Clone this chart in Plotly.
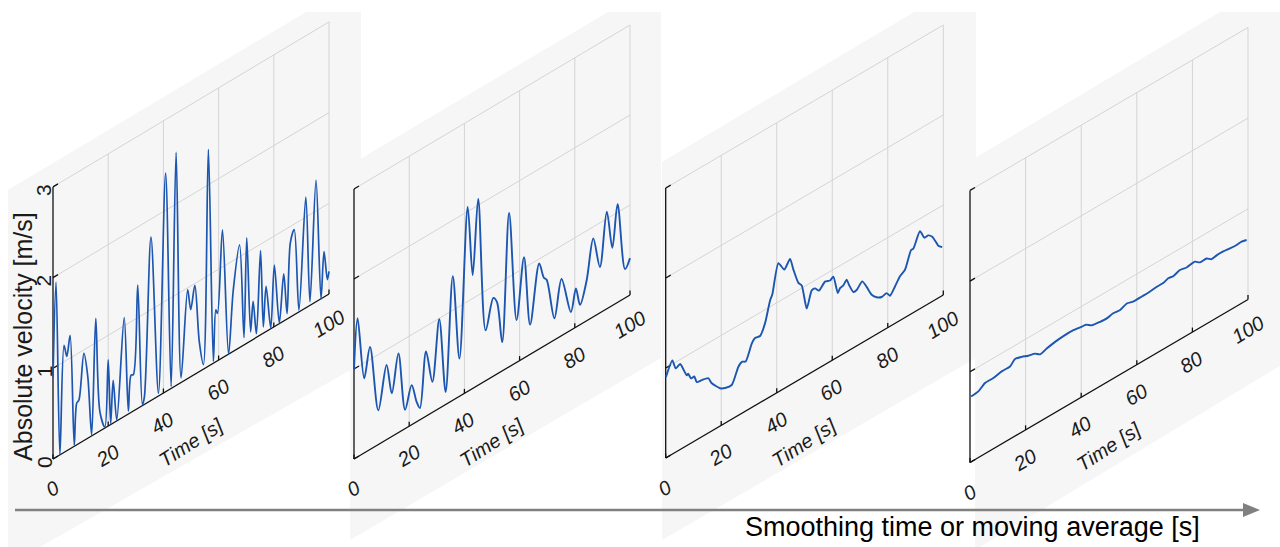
import plotly.graph_objects as go

# ---------------- data ----------------
# Panel 1: raw signal
time_1 = [0.0, 1.1, 2.5, 4.0, 5.0, 6.2, 7.7, 8.6, 9.4, 11.2, 12.6, 14.0, 15.5, 17.0, 18.8, 20.0,
          20.9, 21.8, 23.1, 25.8, 27.3, 28.3, 29.1, 30.7, 32.4, 33.1, 35.5, 38.2, 40.8, 42.8,
          44.6, 46.4, 48.8, 49.9, 51.4, 53.0, 54.5, 56.3, 58.1, 59.0, 59.6, 61.4, 63.6, 65.3,
          67.6, 69.2, 70.2, 71.6, 72.5, 73.7, 75.2, 76.2, 77.2, 78.9, 80.2, 82.0, 83.6, 84.8,
          86.0, 87.4, 89.1, 91.6, 93.1, 95.3, 97.1, 98.2, 99.4, 100.0]
vel_1 = [0.90, 1.93, 0.00, 1.18, 1.04, 1.25, 0.01, 0.46, 0.48, 0.96, 0.68, 0.01, 1.27, 0.21, 0.01, 0.73,
         0.01, 0.47, 0.01, 1.09, 0.03, 0.41, 0.40, 1.36, 0.01, 0.08, 1.80, 0.03, 2.41, 0.02,
         2.57, 0.05, 0.98, 0.74, 0.98, 0.33, 0.05, 2.39, 0.02, 0.57, 0.52, 1.41, 0.00, 0.67,
         1.13, 0.08, 1.16, 0.10, 0.42, 0.04, 0.93, 0.07, 0.50, 0.01, 0.68, 0.01, 0.52, 0.06,
         0.82, 0.94, 0.02, 1.22, 0.04, 1.34, 0.00, 0.50, 0.17, 0.25]

# Panel 2: light smoothing
time_2 = [0.0, 1.3, 3.7, 5.8, 8.8, 11.8, 13.7, 16.1, 18.5, 20.9, 22.7, 23.9, 26.1, 28.4, 30.9,
          33.2, 35.8, 38.2, 41.2, 43.0, 45.0, 47.7, 50.5, 51.8, 53.7, 56.2, 58.9, 61.6, 63.8,
          67.1, 68.8, 69.8, 72.6, 75.2, 78.6, 80.4, 81.9, 84.3, 86.7, 89.1, 91.6, 93.6, 95.5,
          98.2, 100.0]
vel_2 = [1.00, 1.54, 0.83, 1.14, 0.38, 0.83, 0.48, 0.88, 0.21, 0.44, 0.22, 0.13, 0.72, 0.34, 0.99,
         0.14, 1.38, 0.42, 2.05, 1.26, 2.07, 0.56, 0.87, 0.80, 0.32, 1.71, 0.47, 1.12, 0.33,
         0.95, 0.76, 0.72, 0.24, 0.63, 0.20, 0.43, 0.22, 0.45, 0.87, 0.51, 1.08, 0.64, 1.09,
         0.32, 0.41]

# Panel 3: stronger smoothing
time_3 = [0.1, 2.4, 3.6, 5.2, 7.6, 8.1, 9.1, 10.3, 11.2, 13.0, 15.3, 16.6, 19.6, 21.4, 23.8,
          26.2, 27.6, 28.8, 31.0, 32.2, 34.0, 35.8, 37.6, 38.4, 40.6, 42.7, 44.8, 46.0, 47.8,
          49.0, 50.8, 52.6, 53.8, 55.2, 57.4, 59.2, 60.4, 62.0, 62.8, 64.0, 65.2, 66.0, 67.6,
          68.8, 70.8, 72.4, 74.2, 76.0, 77.8, 79.6, 80.8, 82.6, 84.4, 86.2, 88.4, 89.2, 91.6,
          93.2, 94.6, 96.0, 97.6, 98.2, 99.6]
vel_3 = [0.90, 1.04, 0.93, 0.95, 0.78, 0.79, 0.72, 0.72, 0.64, 0.63, 0.61, 0.53, 0.42, 0.39, 0.38,
         0.54, 0.57, 0.55, 0.71, 0.75, 0.74, 0.85, 1.07, 1.12, 1.43, 1.32, 1.40, 1.26, 1.08,
         1.03, 0.74, 0.91, 0.91, 0.86, 0.92, 0.90, 0.92, 0.71, 0.75, 0.76, 0.80, 0.73, 0.62,
         0.62, 0.68, 0.59, 0.47, 0.41, 0.38, 0.39, 0.34, 0.41, 0.49, 0.53, 0.71, 0.71, 0.86,
         0.76, 0.76, 0.72, 0.62, 0.58, 0.54]

# Panel 4: moving average
time_4 = [0.4, 3.0, 5.4, 8.4, 11.4, 14.4, 16.2, 18.6, 21.0, 23.4, 25.2, 27.6, 30.6, 33.6, 37.2,
          40.2, 41.7, 43.8, 46.8, 49.2, 51.5, 54.0, 56.4, 58.7, 61.8, 64.1, 67.2, 69.5, 71.3,
          73.1, 75.5, 77.9, 80.9, 82.7, 85.1, 86.9, 88.7, 91.1, 93.5, 95.9, 97.7, 99.5]
vel_4 = [0.72, 0.73, 0.78, 0.78, 0.80, 0.80, 0.85, 0.83, 0.80, 0.78, 0.74, 0.76, 0.78, 0.79, 0.79,
         0.775, 0.77, 0.725, 0.71, 0.705, 0.72, 0.71, 0.74, 0.72, 0.72, 0.72, 0.73, 0.73, 0.75,
         0.74, 0.765, 0.75, 0.76, 0.72, 0.72, 0.68, 0.69, 0.69, 0.68, 0.675, 0.68, 0.665]

TIME_TICKS = [0, 20, 40, 60, 80, 100]
TIME_TICK_LABELS = ["0", "20", "40", "60", "80", "100"]
VEL_TICKS = [0, 1, 2, 3]
VEL_TICK_LABELS = ["0", "1", "2", "3"]
X_TITLE = "Time [s]"
Y_TITLE = "Absolute velocity [m/s]"
ARROW_TITLE = "Smoothing time or moving average [s]"

SERIES = [(time_1, vel_1), (time_2, vel_2), (time_3, vel_3), (time_4, vel_4)]

# ---------------- geometry of the four oblique panels (pixels) ----------------
PANELS = [
    dict(x0=53.0, y0=459.0, dx=276.0, rise=165.0, pz=90.7),
    dict(x0=354.0, y0=459.0, dx=276.0, rise=164.0, pz=90.0),
    dict(x0=665.7, y0=458.0, dx=277.6, rise=163.0, pz=90.0),
    dict(x0=970.0, y0=462.5, dx=278.0, rise=163.0, pz=90.7),
]
BACKDROPS = [
    [(8, 190), (306, 12), (361, 12), (361, 364), (40, 547), (8, 547)],
    [(350, 165), (608, 12), (661, 12), (661, 358), (350, 540)],
    [(662, 162), (914, 12), (976, 12), (976, 358), (662, 540)],
    [(975, 158), (1220, 12), (1280, 12), (1280, 366), (975, 550)],
]
SMOOTHING = [0.9, 0.9, 0.6, 0.6]
T_MAX = 100.0
V_MAX = 3.0

LINE_BLUE = "#1c56b0"
GRID = "#d4d4d4"
BG = "#f6f6f6"
TXT = "#1a1a1a"
FONT = "Liberation Sans, Arial, sans-serif"


def project(p, ts, vs):
    xs, ys = [], []
    for t, v in zip(ts, vs):
        if t is None:
            xs.append(None)
            ys.append(None)
            continue
        xs.append(p["x0"] + t / T_MAX * p["dx"])
        ys.append(p["y0"] - t / T_MAX * p["rise"] - v * p["pz"])
    return xs, ys


def pt(p, t, v):
    x, y = project(p, [t], [v])
    return x[0], y[0]


fig = go.Figure()
shapes = []
annotations = []

for k, p in enumerate(PANELS):
    # backdrop
    poly = BACKDROPS[k]
    path = "M " + " L ".join(f"{x},{y}" for x, y in poly) + " Z"
    shapes.append(dict(type="path", path=path, xref="x", yref="y",
                       fillcolor=BG, line=dict(width=0), layer="below"))

    # grid lines
    gt, gv = [], []
    for t in TIME_TICKS[1:]:
        gt += [t, t, None]
        gv += [0, V_MAX, None]
    for v in VEL_TICKS[1:]:
        gt += [0, T_MAX, None]
        gv += [v, v, None]
    gx, gy = project(p, gt, gv)
    fig.add_trace(go.Scatter(x=gx, y=gy, mode="lines", line=dict(color=GRID, width=1),
                             hoverinfo="skip"))

    # axis lines and ticks
    at = [0, 0, None, 0, T_MAX, None]
    av = [V_MAX, 0, None, 0, 0, None]
    for t in TIME_TICKS:
        at += [t, t, None]
        av += [0, 0.05, None]
    for v in VEL_TICKS:
        at += [0, 1.8, None]
        av += [v, v, None]
    ax_, ay_ = project(p, at, av)
    fig.add_trace(go.Scatter(x=ax_, y=ay_, mode="lines", line=dict(color="#111111", width=1.3),
                             hoverinfo="skip"))

    # data
    ts, vs = SERIES[k]
    dx_, dy_ = project(p, ts, vs)
    fig.add_trace(go.Scatter(x=dx_, y=dy_, mode="lines",
                             line=dict(color=LINE_BLUE, width=1.7 if k == 0 else 1.9,
                                       shape="spline", smoothing=SMOOTHING[k]),
                             hoverinfo="skip"))

    # time tick labels
    for t, lab in zip(TIME_TICKS, TIME_TICK_LABELS):
        x, y = pt(p, t, 0)
        annotations.append(dict(x=x - 1, y=y + 30, xref="x", yref="y", text=lab,
                                showarrow=False, textangle=-31,
                                font=dict(family=FONT, size=20, color=TXT, style="italic")))
    x, y = pt(p, 50, 0)
    annotations.append(dict(x=x - 1, y=y + 66, xref="x", yref="y", text=X_TITLE,
                            showarrow=False, textangle=-33,
                            font=dict(family=FONT, size=20, color=TXT, style="italic")))

    if k == 0:
        for v, lab in zip(VEL_TICKS, VEL_TICK_LABELS):
            x, y = pt(p, 0, v)
            annotations.append(dict(x=x - 9, y=y + 3, xref="x", yref="y", text=lab,
                                    showarrow=False, textangle=-90,
                                    font=dict(family=FONT, size=21, color=TXT)))
        x, y = pt(p, 0, V_MAX / 2)
        annotations.append(dict(x=x - 30, y=y + 14, xref="x", yref="y", text=Y_TITLE,
                                showarrow=False, textangle=-90,
                                font=dict(family=FONT, size=25, color=TXT)))

# bottom arrow
shapes.append(dict(type="line", x0=15, y0=510, x1=1244, y1=510, xref="x", yref="y",
                   line=dict(color="#808080", width=2.6)))
shapes.append(dict(type="path", path="M 1243,503 L 1260,510 L 1243,517 Z", xref="x", yref="y",
                   fillcolor="#808080", line=dict(width=0)))
annotations.append(dict(x=972, y=527, xref="x", yref="y", text=ARROW_TITLE, showarrow=False,
                        font=dict(family=FONT, size=27, color="#000000")))

fig.update_layout(
    width=1280, height=547,
    margin=dict(l=0, r=0, t=0, b=0),
    paper_bgcolor="white", plot_bgcolor="white",
    showlegend=False,
    xaxis=dict(range=[0, 1280], visible=False, fixedrange=True),
    yaxis=dict(range=[547, 0], visible=False, fixedrange=True),
    shapes=shapes,
    annotations=annotations,
)

fig.write_html("out.html",
               config={"displayModeBar": False},
               post_script="document.body.style.margin='0px';document.body.style.overflow='hidden';")
